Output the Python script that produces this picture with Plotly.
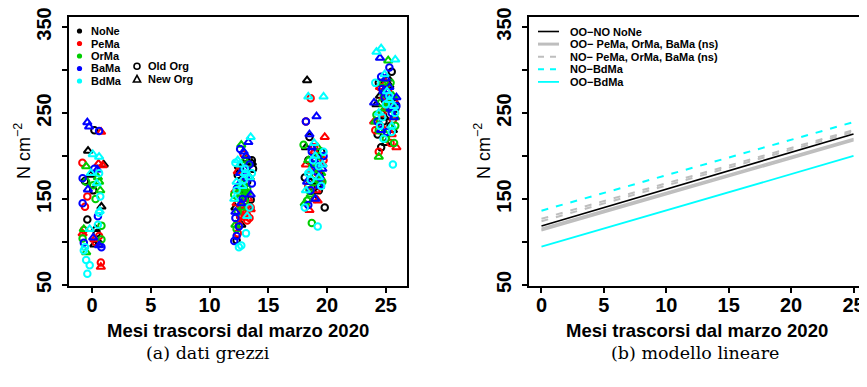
import plotly.graph_objects as go

# the page body keeps its default 8px margin, so the figure is drawn 8px in
OFF = 8
W, H = 867 - OFF, 387 - OFF

# ---------------- data: panel (a) raw data ----------------
groups = ["NoNe", "PeMa", "OrMa", "BaMa", "BdMa"]
group_colors = ["#000000", "#FF0000", "#00CD00", "#0000FF", "#00FFFF"]
org_labels = ["Old Org", "New Org"]

none_old_x = [0.2, -0.6, -0.4, 0.4, 0.1, 0.6, 13.6, 13.5, 12.3, 13.2, 12.6, 13.7, 12.9, 13.3, 12.4, 18.5, 19.8, 19.3, 18.8, 19.5, 18.1, 18.4, 19.2, 25.5, 24.8, 25.1, 24.3, 25.8, 24.6, 24.9, 25.4, 24.4]
none_old_y = [230, 171, 126, 110, 160, 98, 195, 149, 102, 170, 130, 185, 165, 140, 178, 222, 140, 160, 185, 205, 175, 195, 165, 298, 240, 275, 225, 255, 210, 265, 235, 285]
none_new_x = [-0.34, 1.0, 0.8, 0.3, 0.2, -0.1, 12.5, 13.4, 12.9, 13.1, 12.2, 12.7, 13.0, 12.6, 13.6, 18.3, 19.1, 18.6, 19.6, 18.9, 18.2, 19.4, 18.7, 25.3, 24.2, 24.9, 25.6, 24.5, 25.0, 24.7, 25.2, 25.8]
none_new_y = [206, 190, 141, 115, 97, 178, 188, 175, 160, 196, 140, 120, 150, 185, 192, 288, 200, 170, 190, 150, 210, 180, 158, 282, 260, 245, 230, 270, 215, 250, 290, 262]

pema_old_x = [-0.82, -0.4, -0.6, -0.7, 0.6, 0.75, 0.3, 12.9, 13.2, 12.6, 13.5, 12.4, 13.0, 12.8, 12.7, 13.4, 12.5, 18.6, 18.2, 19.2, 19.0, 19.7, 18.4, 18.9, 19.5, 24.4, 25.2, 24.7, 25.7, 24.1, 25.4, 25.0, 24.5, 25.6]
pema_old_y = [192, 153, 141, 114, 107, 76, 100, 202, 125, 130, 140, 110, 145, 135, 132, 128, 120, 267, 240, 180, 150, 195, 165, 210, 172, 205, 275, 250, 265, 230, 215, 258, 280, 242]
pema_new_x = [0.77, 0.55, 0.9, 0.2, 0.75, -0.8, 12.4, 13.3, 12.7, 12.9, 13.5, 12.2, 13.1, 12.8, 12.3, 19.8, 18.5, 18.9, 19.4, 18.2, 19.1, 18.6, 19.2, 24.5, 25.1, 24.0, 25.5, 24.8, 25.9, 25.3, 24.6, 25.0]
pema_new_y = [228, 191, 189, 103, 71, 110, 182, 150, 142, 128, 138, 160, 135, 170, 145, 222, 137, 205, 175, 190, 160, 183, 148, 280, 255, 240, 225, 268, 210, 262, 235, 285]

orma_old_x = [0.1, 0.8, -0.8, 0.8, -0.5, 0.3, 12.1, 12.8, 13.0, 12.6, 12.3, 13.3, 12.9, 12.4, 13.2, 18.0, 18.7, 19.3, 18.3, 19.6, 18.8, 19.0, 18.5, 25.4, 24.6, 25.8, 24.2, 25.0, 25.7, 24.8, 25.3, 24.4]
orma_old_y = [166, 119, 104, 103, 170, 150, 155, 160, 148, 165, 115, 190, 158, 135, 162, 213, 122, 200, 148, 170, 185, 178, 160, 285, 262, 235, 248, 220, 215, 272, 255, 230]
orma_new_x = [-0.5, 0.6, 0.7, -0.7, -0.5, 0.5, 12.7, 13.2, 12.9, 12.2, 12.5, 13.0, 12.6, 13.4, 12.8, 18.9, 18.4, 19.2, 19.5, 18.6, 18.1, 18.8, 19.3, 25.2, 24.4, 24.9, 25.6, 24.1, 25.0, 24.7, 25.4, 25.8]
orma_new_y = [188, 170, 160, 115, 88, 175, 213, 158, 168, 120, 150, 195, 162, 175, 140, 168, 195, 210, 180, 155, 145, 190, 172, 311, 199, 255, 270, 240, 225, 285, 262, 245]

bama_old_x = [0.6, -0.8, -0.8, -0.7, 0.8, 0.2, 0.5, 12.6, 12.3, 12.1, 13.1, 12.5, 13.6, 13.4, 12.8, 12.2, 18.2, 18.4, 19.4, 18.9, 19.7, 18.6, 19.1, 18.7, 25.3, 24.7, 25.9, 24.3, 25.1, 24.9, 25.5, 24.6, 25.2]
bama_old_y = [229, 174, 145, 99, 94, 185, 130, 208, 107, 101, 175, 118, 168, 190, 150, 128, 240, 143, 175, 190, 200, 160, 182, 205, 303, 278, 258, 240, 228, 268, 250, 292, 270]
bama_new_x = [-0.4, -0.25, 0.45, -0.35, 0.1, 0.6, 13.3, 12.9, 12.6, 13.5, 12.2, 13.0, 12.4, 13.1, 12.7, 19.1, 18.7, 19.6, 18.3, 19.0, 18.5, 18.9, 19.4, 24.5, 24.0, 25.3, 25.7, 24.6, 25.0, 25.4, 24.8, 25.9]
bama_new_y = [239, 234, 184, 161, 105, 96, 216, 205, 180, 155, 135, 185, 165, 200, 145, 246, 210, 185, 170, 150, 225, 195, 165, 314, 262, 280, 245, 230, 290, 255, 275, 268]

bdma_old_x = [0.7, 0.6, -0.6, -0.7, -0.5, -0.2, -0.4, 0.6, 0.5, 12.5, 12.7, 13.6, 12.2, 13.1, 12.9, 12.3, 13.0, 13.4, 19.2, 18.1, 19.5, 18.8, 18.4, 19.7, 18.6, 19.3, 25.6, 24.1, 25.0, 24.5, 25.8, 24.8, 25.3, 24.7, 25.5]
bdma_old_y = [153, 134, 94, 90, 79, 73, 63, 180, 120, 94, 96, 180, 192, 110, 172, 160, 185, 140, 118, 140, 165, 195, 180, 205, 172, 188, 190, 285, 260, 235, 250, 220, 270, 245, 228]
bdma_new_x = [0.06, 0.6, -0.1, 0.65, -0.2, 0.4, 13.5, 12.4, 13.0, 12.8, 13.4, 12.1, 12.6, 13.2, 12.3, 18.4, 19.7, 18.9, 19.3, 18.2, 19.6, 19.0, 18.5, 24.6, 24.2, 25.8, 25.1, 24.4, 25.5, 24.9, 25.3, 25.7]
bdma_new_y = [202, 199, 180, 136, 115, 168, 222, 195, 180, 165, 175, 150, 190, 130, 170, 269, 269, 215, 175, 160, 190, 200, 182, 325, 321, 312, 275, 250, 235, 295, 265, 258]

old_x = [none_old_x, pema_old_x, orma_old_x, bama_old_x, bdma_old_x]
old_y = [none_old_y, pema_old_y, orma_old_y, bama_old_y, bdma_old_y]
new_x = [none_new_x, pema_new_x, orma_new_x, bama_new_x, bdma_new_x]
new_y = [none_new_y, pema_new_y, orma_new_y, bama_new_y, bdma_new_y]

# ---------------- data: panel (b) linear model ----------------
line_labels = ["OO\u2212NO NoNe", "OO\u2212 PeMa, OrMa, BaMa (ns)", "NO\u2212 PeMa, OrMa, BaMa (ns)", "NO\u2212BdMa", "OO\u2212BdMa"]
line_colors = ["#000000", "#BEBEBE", "#BEBEBE", "#00FFFF", "#00FFFF"]
line_dashes = ["solid", "solid", "7px,8px", "7px,8px", "solid"]
line_widths = [1.6, 1.6, 2.0, 2.0, 1.8]
model_intercepts = [113.2, 114.5, 115.8, 124.0, 127.0, 136.4, 94.5, 118.6]
model_slopes = [4.18, 4.18, 4.18, 4.16, 4.12, 4.12, 4.22, 4.28]
model_style = [1, 1, 1, 2, 2, 3, 4, 0]
model_months = [0, 25]

x_ticks = [0, 5, 10, 15, 20, 25]
y_ticks = [50, 100, 150, 200, 250, 300, 350]
y_ticktext = ["50", "", "150", "", "250", "", "350"]
x_title = "Mesi trascorsi dal marzo 2020"
y_title = "N cm<sup>\u22122</sup>"
captions = ["(a) dati grezzi", "(b) modello lineare"]

FONT = "Liberation Sans"

fig = go.Figure()

for i in range(len(groups)):
    fig.add_trace(go.Scatter(
        x=old_x[i], y=old_y[i], mode="markers", xaxis="x", yaxis="y",
        marker=dict(symbol="circle-open", size=6.5, color=group_colors[i], line=dict(width=2, color=group_colors[i])),
        showlegend=False, hoverinfo="skip"))
    fig.add_trace(go.Scatter(
        x=new_x[i], y=new_y[i], mode="markers", xaxis="x", yaxis="y",
        marker=dict(symbol="triangle-up-open", size=7.5, color=group_colors[i], line=dict(width=2, color=group_colors[i])),
        showlegend=False, hoverinfo="skip"))

for a, b, s in zip(model_intercepts, model_slopes, model_style):
    fig.add_trace(go.Scatter(
        x=model_months, y=[a + b * m for m in model_months], mode="lines",
        xaxis="x2", yaxis="y2",
        line=dict(color=line_colors[s], dash=line_dashes[s], width=line_widths[s]),
        showlegend=False, hoverinfo="skip"))


def px(x):
    return (x - OFF) / W


def py(y):
    return 1 - (y - OFF) / H


def xaxis_cfg(dom, rng):
    return dict(domain=[px(dom[0]), px(dom[1])], range=rng, showline=True, linecolor="black",
                linewidth=2, mirror=True, ticks="outside", ticklen=5, tickwidth=1.5,
                tickcolor="black", showgrid=False, zeroline=False, tickvals=x_ticks,
                automargin=False, ticklabelstandoff=-5, ticklabeloverflow="allow",
                tickfont=dict(family=FONT, size=20, color="black", weight="bold"))


def yaxis_cfg(anchor):
    return dict(domain=[py(286), py(17)], range=[48.8, 361.6], anchor=anchor, showline=True,
                linecolor="black", linewidth=2, mirror=True, ticks="outside", ticklen=5,
                tickwidth=1.5, tickcolor="black", showgrid=False, zeroline=False,
                automargin=False, ticklabelstandoff=3, ticklabeloverflow="allow",
                tickvals=y_ticks, ticktext=y_ticktext, tickangle=-90,
                tickfont=dict(family=FONT, size=20, color="black", weight="bold"))


shapes = []
annotations = []

# axis titles
for xc, ytx in [(238, 22), (697, 482)]:
    annotations.append(dict(x=px(xc), y=py(330), xref="paper", yref="paper", text=x_title,
                            showarrow=False, xanchor="center", yanchor="middle",
                            font=dict(family=FONT, size=18.5, color="black", weight="bold")))
    annotations.append(dict(x=px(ytx), y=py(151), xref="paper", yref="paper", text=y_title,
                            showarrow=False, xanchor="center", yanchor="middle", textangle=-90,
                            font=dict(family=FONT, size=18, color="black")))

# legend (a): groups
leg_y0, leg_dy = 31, 12.5
for i, g in enumerate(groups):
    yy = leg_y0 + i * leg_dy
    shapes.append(dict(type="circle", xref="paper", yref="paper", xsizemode="pixel", ysizemode="pixel",
                       xanchor=px(79.5), yanchor=py(yy), x0=-2.6, x1=2.6, y0=-2.6, y1=2.6,
                       fillcolor=group_colors[i], line=dict(width=0)))
    annotations.append(dict(x=px(89), y=py(yy), xref="paper", yref="paper", text=g, showarrow=False,
                            xanchor="left", yanchor="middle",
                            font=dict(family=FONT, size=11, color="black", weight="bold")))
# legend (a): org
org_y = [66.3, 79]
shapes.append(dict(type="circle", xref="paper", yref="paper", xsizemode="pixel", ysizemode="pixel",
                   xanchor=px(137), yanchor=py(org_y[0]), x0=-3, x1=3, y0=-3, y1=3,
                   line=dict(width=1.6, color="black")))
shapes.append(dict(type="path", xref="paper", yref="paper", xsizemode="pixel", ysizemode="pixel",
                   xanchor=px(137), yanchor=py(org_y[1]), path="M -3.6,-3 L 3.6,-3 L 0,3.6 Z",
                   line=dict(width=1.6, color="black")))
for t, yy in zip(org_labels, org_y):
    annotations.append(dict(x=px(146), y=py(yy), xref="paper", yref="paper", text=t, showarrow=False,
                            xanchor="left", yanchor="middle",
                            font=dict(family=FONT, size=11, color="black", weight="bold")))

# legend (b)
rl_y0, rl_dy = 31.5, 12.6
for i, t in enumerate(line_labels):
    yy = rl_y0 + i * rl_dy
    shapes.append(dict(type="line", xref="paper", yref="paper", x0=px(538), x1=px(559), y0=py(yy), y1=py(yy),
                       line=dict(color=line_colors[i], dash="6px,6px" if line_dashes[i] != "solid" else "solid",
                                 width=3 if i == 1 else line_widths[i])))
    annotations.append(dict(x=px(568), y=py(yy), xref="paper", yref="paper", text=t, showarrow=False,
                            xanchor="left", yanchor="middle",
                            font=dict(family=FONT, size=11, color="black", weight="bold")))

# captions
for cx, txt in zip([208, 695], captions):
    annotations.append(dict(x=px(cx), y=py(353), xref="paper", yref="paper", text=txt,
                            showarrow=False, xanchor="center", yanchor="middle",
                            font=dict(family="DejaVu Serif", size=17.5, color="black")))

fig.update_layout(
    width=W, height=H, autosize=False,
    margin=dict(l=0, r=0, t=0, b=0, pad=0),
    paper_bgcolor="white", plot_bgcolor="white",
    xaxis=dict(xaxis_cfg((69, 407), [-1.96, 26.8]), anchor="y"),
    yaxis=yaxis_cfg("x"),
    xaxis2=dict(xaxis_cfg((529, 866), [-1, 26]), anchor="y2"),
    yaxis2=yaxis_cfg("x2"),
    shapes=shapes, annotations=annotations, showlegend=False,
)

fig.write_html("out.html", config={"displayModeBar": False})
